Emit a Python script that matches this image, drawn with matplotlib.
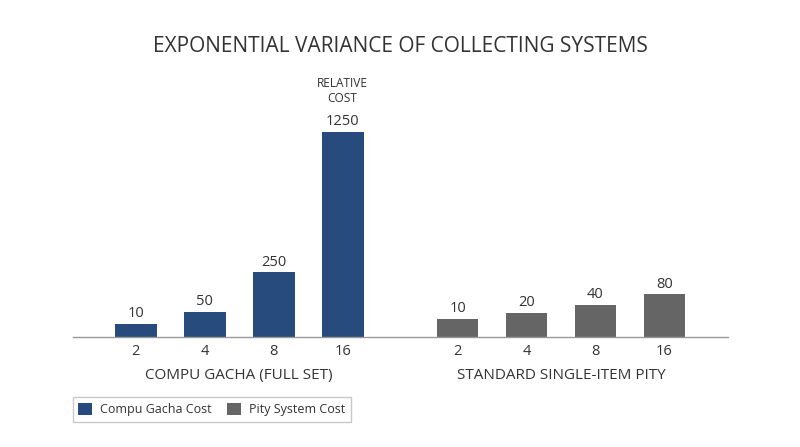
import numpy as np
import matplotlib
matplotlib.use("Agg")
import matplotlib.pyplot as plt
from matplotlib.patches import Patch

plt.rcParams['font.family'] = ['Open Sans', 'DejaVu Sans']

# tick labels (number of items) and cost labels shown above each bar
items = ['2', '4', '8', '16']
gacha_cost = [10, 50, 250, 1250]
pity_cost = [10, 20, 40, 80]

# bar heights as drawn in the picture (relative, tallest bar = 100)
gacha_height = [6.5, 12.2, 31.6, 100]
pity_height = [8.8, 11.7, 15.6, 20.9]

group_names = ['COMPU GACHA (FULL SET)', 'STANDARD SINGLE-ITEM PITY']
blue = '#274b7c'
grey = '#656565'
text_col = '#333333'

fig = plt.figure(figsize=(8, 4.47), dpi=100)
ax = fig.add_axes([72.7 / 800, 1 - 337.3 / 447, (728 - 72.7) / 800, 207.7 / 447])

x_gacha = np.arange(4)
x_pity = np.arange(4) + 4.667
w = 0.605

ax.bar(x_gacha, gacha_height, width=w, color=blue)
ax.bar(x_pity, pity_height, width=w, color=grey)

for xs, hs, vals in [(x_gacha, gacha_height, gacha_cost), (x_pity, pity_height, pity_cost)]:
    for xi, h, v in zip(xs, hs, vals):
        ax.annotate(str(v), (xi, h), xytext=(0, 2), textcoords='offset points',
                    ha='center', va='bottom', fontsize=10.5, color=text_col,
                    annotation_clip=False)

ax.annotate('RELATIVE\nCOST', (x_gacha[3], gacha_height[3]), xytext=(0, 19),
            textcoords='offset points', ha='center', va='bottom', fontsize=8.6,
            color=text_col, linespacing=1.25, annotation_clip=False)

ax.set_xlim(-0.916, 8.59)
ax.set_ylim(0, 101)
ax.set_xticks(list(x_gacha) + list(x_pity))
ax.set_xticklabels(items + items, fontsize=10.5, color=text_col)
ax.tick_params(axis='x', length=0, pad=5)
ax.set_yticks([])
for s in ['top', 'right', 'left']:
    ax.spines[s].set_visible(False)
ax.spines['bottom'].set_color('#999999')
ax.spines['bottom'].set_linewidth(1)

ax.text(x_gacha.mean(), -18.5, group_names[0], ha='center', va='center',
        fontsize=11, color=text_col, transform=ax.transData)
ax.text(x_pity.mean(), -18.5, group_names[1], ha='center', va='center',
        fontsize=11, color=text_col, transform=ax.transData)

fig.text(0.5, 1 - 47 / 447, 'EXPONENTIAL VARIANCE OF COLLECTING SYSTEMS',
         ha='center', va='center', fontsize=15, color=text_col)

handles = [Patch(facecolor=blue, label='Compu Gacha Cost'),
           Patch(facecolor=grey, label='Pity System Cost')]
leg = fig.legend(handles=handles, loc='upper left', ncol=2,
                 bbox_to_anchor=(72.7 / 800, 1 - 397.3 / 447),
                 frameon=True, fancybox=False, edgecolor='#bbbbbb',
                 fontsize=9, handlelength=1.1, handleheight=1.1,
                 columnspacing=1.3, borderpad=0.45, handletextpad=0.6,
                 borderaxespad=0)
leg.get_frame().set_linewidth(1)
for t in leg.get_texts():
    t.set_color(text_col)

fig.savefig('out.png', dpi=100, facecolor='white')
